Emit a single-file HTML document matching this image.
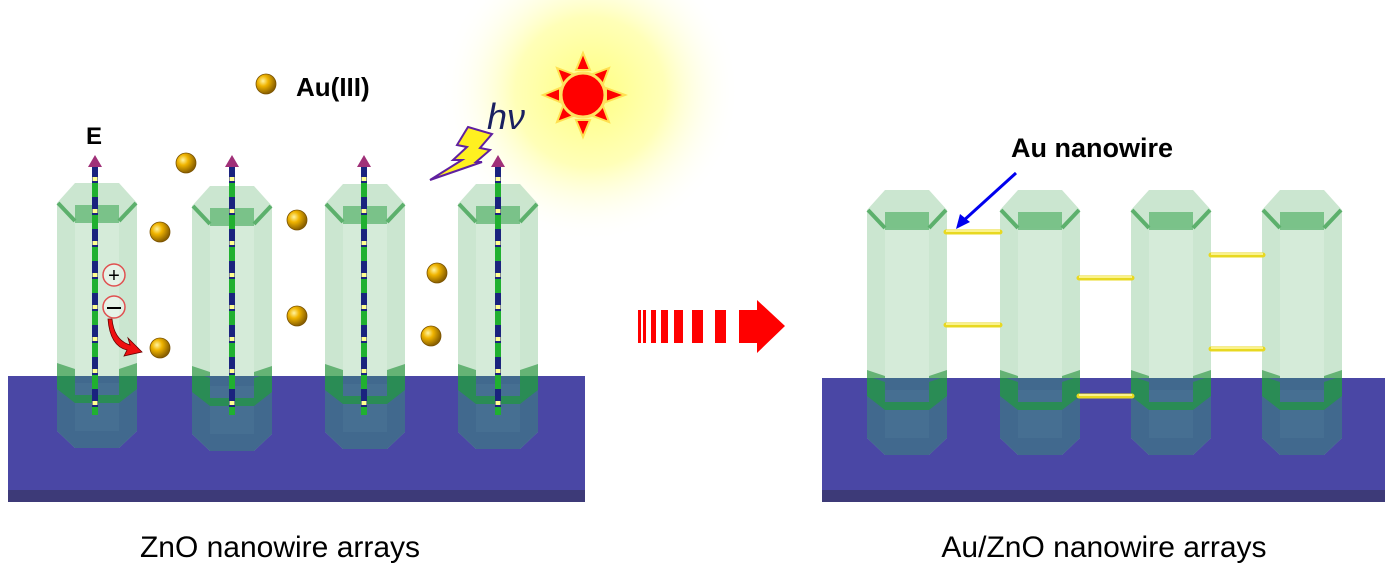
<!DOCTYPE html>
<html><head><meta charset="utf-8"><style>
html,body{margin:0;padding:0;background:#fff;width:1398px;height:575px;overflow:hidden}
svg{display:block}
text{font-family:"Liberation Sans",sans-serif}
</style></head><body>
<svg width="1398" height="575" viewBox="0 0 1398 575" xmlns="http://www.w3.org/2000/svg">
<defs>
<radialGradient id="glow" cx="50%" cy="50%" r="50%">
<stop offset="0" stop-color="#ffff80"/><stop offset="0.5" stop-color="#ffffb8"/><stop offset="1" stop-color="#ffffff" stop-opacity="0"/>
</radialGradient>
<radialGradient id="ball" cx="35%" cy="35%" r="65%">
<stop offset="0" stop-color="#fff3a0"/><stop offset="0.4" stop-color="#f0b400"/><stop offset="1" stop-color="#8a6000"/>
</radialGradient>
<clipPath id="subL"><rect x="0" y="376" width="700" height="200"/></clipPath>
<clipPath id="subR"><rect x="700" y="378" width="698" height="200"/></clipPath>
<g id="pillar">
<polygon points="18,0 62,0 80,20 80,248 62,265 18,265 0,248 0,20" fill="#b5dcbc" fill-opacity="0.7"/>
<rect x="18" y="38" width="44" height="210" fill="#dff0e2" fill-opacity="0.5"/>
<rect x="18" y="22" width="44" height="18" fill="#6cbb7c" fill-opacity="0.85"/>
<line x1="1" y1="20" x2="18" y2="38" stroke="#5cb06c" stroke-width="4"/>
<line x1="79" y1="20" x2="62" y2="38" stroke="#5cb06c" stroke-width="4"/>
</g>
<g id="lower">
<polygon points="0,180 80,180 80,248 62,265 18,265 0,248" fill="#41698e"/>
<rect x="18" y="200" width="44" height="48" fill="#466f92"/>
<polygon points="0,186 18,192 18,212 62,212 62,192 80,186 80,206 62,220 18,220 0,206" fill="#2a8c55"/>
</g>
<g id="band">
<polygon points="0,180 18,186 18,200 62,200 62,186 80,180 80,196 62,202 18,202 0,196" fill="#5aad6a" fill-opacity="0.9"/>
</g>
<g id="rod">
<line x1="0" y1="8" x2="0" y2="260" stroke="#1a237e" stroke-width="6"/>
<line x1="0" y1="8" x2="0" y2="260" stroke="#20b030" stroke-width="6" stroke-dasharray="14 18" stroke-dashoffset="-20"/>
<line x1="0" y1="8" x2="0" y2="260" stroke="#ffff90" stroke-width="5" stroke-dasharray="4 28" stroke-dashoffset="-14"/>
<polygon points="-7,12 0,0 7,12" fill="#a03078"/>
</g>
</defs>
<circle cx="590" cy="92" r="150" fill="url(#glow)"/>
<!-- substrates -->
<rect x="8" y="376" width="577" height="126" fill="#4a47a5"/>
<rect x="8" y="490" width="577" height="12" fill="#3d3a78"/>
<rect x="822" y="378" width="563" height="124" fill="#4a47a5"/>
<rect x="822" y="490" width="563" height="12" fill="#3d3a78"/>
<!-- left pillars -->
<g>
<use href="#pillar" x="57" y="183"/>
<use href="#pillar" x="192" y="186"/>
<use href="#pillar" x="325" y="184"/>
<use href="#pillar" x="458" y="184"/>
<use href="#band" x="57" y="183"/>
<use href="#band" x="192" y="186"/>
<use href="#band" x="325" y="184"/>
<use href="#band" x="458" y="184"/>
</g>
<g clip-path="url(#subL)">
<use href="#lower" x="57" y="183"/>
<use href="#lower" x="192" y="186"/>
<use href="#lower" x="325" y="184"/>
<use href="#lower" x="458" y="184"/>
</g>
<use href="#rod" x="95" y="155"/>
<use href="#rod" x="232" y="155"/>
<use href="#rod" x="364" y="155"/>
<use href="#rod" x="498" y="155"/>
<!-- right pillars -->
<use href="#pillar" x="867" y="190"/>
<use href="#pillar" x="1000" y="190"/>
<use href="#pillar" x="1131" y="190"/>
<use href="#pillar" x="1262" y="190"/>
<use href="#band" x="867" y="190"/>
<use href="#band" x="1000" y="190"/>
<use href="#band" x="1131" y="190"/>
<use href="#band" x="1262" y="190"/>
<g clip-path="url(#subR)">
<use href="#lower" x="867" y="190"/>
<use href="#lower" x="1000" y="190"/>
<use href="#lower" x="1131" y="190"/>
<use href="#lower" x="1262" y="190"/>
</g>
<!-- au wires -->
<g stroke="#e8d820" stroke-width="5" stroke-linecap="round">
<line x1="946" y1="232" x2="1000" y2="232"/>
<line x1="946" y1="325" x2="1000" y2="325"/>
<line x1="1079" y1="278" x2="1132" y2="278"/>
<line x1="1079" y1="396" x2="1132" y2="396"/>
<line x1="1211" y1="255" x2="1263" y2="255"/>
<line x1="1211" y1="349" x2="1263" y2="349"/>
</g>
<g stroke="#fffbb0" stroke-width="1.5">
<line x1="946" y1="231" x2="1000" y2="231"/><line x1="946" y1="324" x2="1000" y2="324"/>
<line x1="1079" y1="277" x2="1132" y2="277"/><line x1="1079" y1="395" x2="1132" y2="395"/>
<line x1="1211" y1="254" x2="1263" y2="254"/><line x1="1211" y1="348" x2="1263" y2="348"/>
</g>
<!-- balls -->
<g fill="url(#ball)" stroke="#7a5200" stroke-width="0.8">
<circle cx="266" cy="84" r="10"/>
<circle cx="186" cy="163" r="10"/>
<circle cx="160" cy="232" r="10"/>
<circle cx="297" cy="220" r="10"/>
<circle cx="437" cy="273" r="10"/>
<circle cx="297" cy="316" r="10"/>
<circle cx="160" cy="348" r="10"/>
<circle cx="431" cy="336" r="10"/>
</g>
<!-- +/- -->
<circle cx="114" cy="275" r="11" fill="#fff" fill-opacity="0.4" stroke="#e05050" stroke-width="1.5"/>
<text x="114" y="282" font-size="20" text-anchor="middle" fill="#000">+</text>
<circle cx="114" cy="307" r="11" fill="#fff" fill-opacity="0.4" stroke="#e05050" stroke-width="1.5"/>
<line x1="107" y1="308" x2="121" y2="308" stroke="#000" stroke-width="2"/>
<path d="M112,319 Q114,340 130,345 L128,338 L142,352 L124,356 L127,350 Q110,346 108,319 Z" fill="#ee1010" stroke="#600" stroke-width="0.8"/>
<!-- E -->
<text x="86" y="144" font-family="Liberation Serif,serif" font-weight="bold" font-size="24" fill="#000">E</text>
<text x="296" y="96" font-weight="bold" font-size="26" fill="#000">Au(III)</text>
<!-- hv and bolt -->
<text x="487" y="129" font-family="Liberation Serif,serif" font-style="italic" font-size="36" fill="#1a2060">hν</text>
<polygon points="468,127 492,134 480,148 490,150 476,162 482,162 430,180 462,160 453,160 467,147 457,145" fill="#fff020" stroke="#6020a0" stroke-width="2"/>
<!-- sun -->
<g fill="#ff0000" stroke="#ffe050" stroke-width="2">
<polygon points="583,53 576,70 590,70"/>
<polygon points="583,137 576,120 590,120"/>
<polygon points="543,95 560,88 560,102"/>
<polygon points="625,95 606,88 606,102"/>
<polygon points="557,68 573,74 563,84"/>
<polygon points="609,68 593,74 603,84"/>
<polygon points="557,122 563,106 573,116"/>
<polygon points="609,122 603,106 593,116"/>
</g>
<circle cx="583" cy="95" r="22" fill="#ff0000" stroke="#ffe060" stroke-width="3"/>
<!-- dashed arrow -->
<g fill="#ff0000">
<rect x="638" y="310" width="3" height="33"/>
<rect x="643" y="310" width="3" height="33"/>
<rect x="651" y="310" width="5" height="33"/>
<rect x="661" y="310" width="7" height="33"/>
<rect x="674" y="310" width="9" height="33"/>
<rect x="692" y="310" width="11" height="33"/>
<rect x="715" y="310" width="11" height="33"/>
<polygon points="739,310 757,310 757,300 785,326 757,353 757,343 739,343"/>
</g>
<!-- Au nanowire label -->
<text x="1092" y="157" font-weight="bold" font-size="27" text-anchor="middle" fill="#000">Au nanowire</text>
<line x1="1016" y1="173" x2="962" y2="222" stroke="#0000ee" stroke-width="3"/>
<polygon points="956,229 960,214 970,222" fill="#0000ee"/>
<!-- captions -->
<text x="280" y="557" font-size="30" text-anchor="middle" fill="#000">ZnO nanowire arrays</text>
<text x="1104" y="557" font-size="30" text-anchor="middle" fill="#000">Au/ZnO nanowire arrays</text>
</svg>
</body></html>
